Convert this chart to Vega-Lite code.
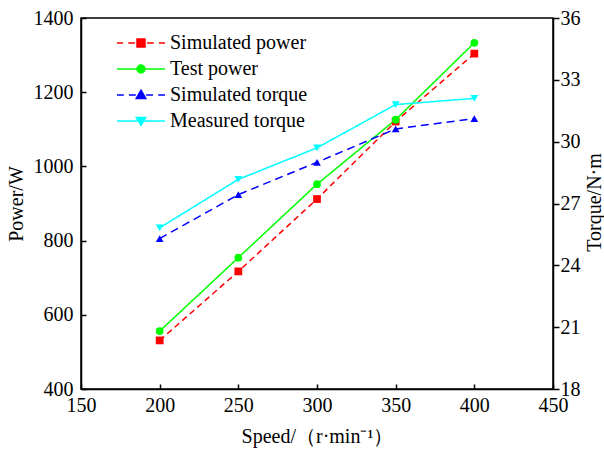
{
  "$schema": "https://vega.github.io/schema/vega-lite/v6.json",
  "width": 472,
  "height": 371,
  "autosize": "none",
  "padding": {"left": 81, "top": 18, "right": 51, "bottom": 65},
  "background": "white",
  "config": {
    "font": "Liberation Serif",
    "view": {"stroke": "black", "strokeWidth": 1.5},
    "axis": {
      "grid": false,
      "domainColor": "black",
      "domainWidth": 1.5,
      "tickColor": "black",
      "tickWidth": 1.5,
      "labelColor": "black",
      "labelFont": "Liberation Serif",
      "labelFontSize": 20,
      "labelFlush": false,
      "labelOverlap": false,
      "format": "d",
      "titleColor": "black",
      "titleFont": "Liberation Serif",
      "titleFontSize": 20,
      "titleFontWeight": "normal"
    },
    "legend": {
      "title": null,
      "orient": "none",
      "legendX": 31,
      "legendY": 15,
      "padding": 0,
      "symbolSize": 64,
      "symbolOffset": 19,
      "labelOffset": 19,
      "labelFont": "Liberation Serif",
      "labelFontSize": 20,
      "labelColor": "black",
      "rowPadding": 6,
      "symbolStrokeWidth": 1.5
    }
  },
  "data": {
    "values": [
      {"speed": 200, "series": "Simulated power", "axis": "power", "value": 531},
      {"speed": 250, "series": "Simulated power", "axis": "power", "value": 717},
      {"speed": 300, "series": "Simulated power", "axis": "power", "value": 912},
      {"speed": 350, "series": "Simulated power", "axis": "power", "value": 1121},
      {"speed": 400, "series": "Simulated power", "axis": "power", "value": 1304},
      {"speed": 200, "series": "Test power", "axis": "power", "value": 556},
      {"speed": 250, "series": "Test power", "axis": "power", "value": 754},
      {"speed": 300, "series": "Test power", "axis": "power", "value": 952},
      {"speed": 350, "series": "Test power", "axis": "power", "value": 1126},
      {"speed": 400, "series": "Test power", "axis": "power", "value": 1333},
      {"speed": 200, "series": "Simulated torque", "axis": "torque", "value": 25.3},
      {"speed": 250, "series": "Simulated torque", "axis": "torque", "value": 27.43},
      {"speed": 300, "series": "Simulated torque", "axis": "torque", "value": 29.0},
      {"speed": 350, "series": "Simulated torque", "axis": "torque", "value": 30.62},
      {"speed": 400, "series": "Simulated torque", "axis": "torque", "value": 31.12},
      {"speed": 200, "series": "Measured torque", "axis": "torque", "value": 25.82},
      {"speed": 250, "series": "Measured torque", "axis": "torque", "value": 28.17},
      {"speed": 300, "series": "Measured torque", "axis": "torque", "value": 29.7},
      {"speed": 350, "series": "Measured torque", "axis": "torque", "value": 31.8},
      {"speed": 400, "series": "Measured torque", "axis": "torque", "value": 32.1}
    ]
  },
  "encoding": {
    "x": {
      "field": "speed",
      "type": "quantitative",
      "scale": {"domain": [150, 450], "nice": false, "zero": false},
      "axis": {
        "values": [150, 200, 250, 300, 350, 400, 450],
        "tickSize": -5,
        "labelPadding": 11,
        "title": "Speed/（r·min⁻¹）",
        "titlePadding": 11
      }
    }
  },
  "layer": [
    {
      "transform": [{"filter": "datum.axis === 'power'"}],
      "encoding": {
        "y": {
          "field": "value",
          "type": "quantitative",
          "scale": {"domain": [400, 1400], "nice": false, "zero": false},
          "axis": {
            "orient": "left",
            "values": [400, 600, 800, 1000, 1200, 1400],
            "tickSize": -5,
            "labelPadding": 13,
            "title": "Power/W",
            "titlePadding": 7
          }
        }
      },
      "layer": [
        {
          "mark": {"type": "line", "strokeWidth": 1.5},
          "encoding": {
            "color": {
              "field": "series",
              "type": "nominal",
              "scale": {
                "domain": ["Measured torque", "Simulated power", "Simulated torque", "Test power"],
                "range": ["#00ffff", "#ff0000", "#0000ff", "#00ff00"]
              },
              "legend": null
            },
            "strokeDash": {
              "field": "series",
              "type": "nominal",
              "scale": {
                "domain": ["Measured torque", "Simulated power", "Simulated torque", "Test power"],
                "range": [[1, 0], [6, 4], [8, 5], [1, 0]]
              },
              "legend": null
            }
          }
        },
        {
          "transform": [{"filter": "datum.series === 'Simulated power'"}],
          "mark": {"type": "point", "shape": "square", "filled": true, "size": 60, "color": "#ff0000", "opacity": 1}
        },
        {
          "transform": [{"filter": "datum.series === 'Test power'"}],
          "mark": {"type": "point", "shape": "circle", "filled": true, "size": 60, "color": "#00ff00", "opacity": 1}
        },
        {
          "mark": {"type": "point", "opacity": 0, "strokeWidth": 1.5},
          "encoding": {
            "fill": {
              "field": "series",
              "type": "nominal",
              "scale": {
                "domain": ["Simulated power", "Test power", "Simulated torque", "Measured torque"],
                "range": ["#ff0000", "#00ff00", "#0000ff", "#00ffff"]
              },
              "legend": {"encode": {"symbols": {"update": {"opacity": {"value": 1}}}}}
            },
            "stroke": {
              "field": "series",
              "type": "nominal",
              "scale": {
                "domain": ["Simulated power", "Test power", "Simulated torque", "Measured torque"],
                "range": ["#ff0000", "#00ff00", "#0000ff", "#00ffff"]
              },
              "legend": {"encode": {"symbols": {"update": {"opacity": {"value": 1}}}}}
            },
            "shape": {
              "field": "series",
              "type": "nominal",
              "scale": {
                "domain": ["Simulated power", "Test power", "Simulated torque", "Measured torque"],
                "range": [
                  "M-6,0H-4.5M-3.2,0H-1.5M1.5,0H3.2M4.5,0H6M-1,-1H1V1H-1Z",
                  "M-6,0H6M1,0A1,1,0,1,1,-1,0A1,1,0,1,1,1,0Z",
                  "M-6,0H-4.3M-3,0H-1.3M1.3,0H3M4.3,0H6M0,-1.2L1.2,0.9L-1.2,0.9Z",
                  "M-6,0H6M0,1.1L1.2,-0.9L-1.2,-0.9Z"
                ]
              },
              "legend": {"encode": {"symbols": {"update": {"opacity": {"value": 1}}}}}
            }
          }
        }
      ]
    },
    {
      "transform": [{"filter": "datum.axis === 'torque'"}],
      "encoding": {
        "y": {
          "field": "value",
          "type": "quantitative",
          "scale": {"domain": [18, 36], "nice": false, "zero": false},
          "axis": {
            "orient": "right",
            "values": [18, 21, 24, 27, 30, 33, 36],
            "tickSize": 6,
            "labelPadding": 1,
            "title": "Torque/N·m",
            "titleAngle": 270,
            "titleAlign": "center",
            "titleBaseline": "alphabetic",
            "titleX": 47,
            "titleY": 184
          }
        }
      },
      "layer": [
        {
          "mark": {"type": "line", "strokeWidth": 1.5},
          "encoding": {
            "color": {"field": "series", "type": "nominal", "legend": null},
            "strokeDash": {"field": "series", "type": "nominal", "legend": null}
          }
        },
        {
          "transform": [{"filter": "datum.series === 'Simulated torque'"}],
          "mark": {"type": "point", "shape": "triangle-up", "filled": true, "size": 60, "color": "#0000ff", "opacity": 1}
        },
        {
          "transform": [{"filter": "datum.series === 'Measured torque'"}],
          "mark": {"type": "point", "shape": "triangle-down", "filled": true, "size": 60, "color": "#00ffff", "opacity": 1}
        }
      ]
    }
  ],
  "resolve": {"scale": {"y": "independent"}}
}
